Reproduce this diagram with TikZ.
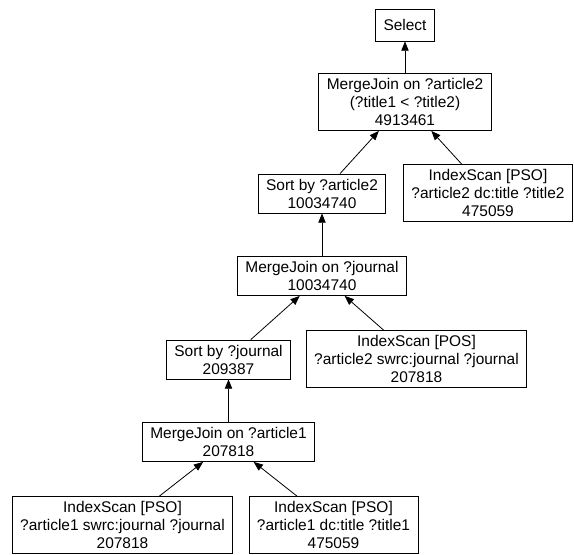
\documentclass[tikz,border=0pt]{standalone}
\usepackage{fontspec}
\setmainfont{Liberation Sans}
\usetikzlibrary{arrows.meta}

\begin{document}
\begin{tikzpicture}[
x=0.75pt, y=-0.75pt,
>={Triangle[length=7pt,width=5.5pt]},
line width=0.6pt,
box/.style={rectangle, draw, align=center, font=\fontsize{11.6}{13.5}\selectfont,
  inner xsep=6pt, inner ysep=3.6pt, minimum height=24pt}
]
\useasboundingbox (0,0) rectangle (574,554);

\node[box] (select) at (405,25) {Select};
\node[box] (mj2) at (405,102) {MergeJoin on ?article2\\(?title1 < ?title2)\\4913461};

\node[box] (sort2) at (322,193.5) {Sort by ?article2\\10034740};
\node[box] (scan4) at (488,193) {IndexScan [PSO]\\?article2 dc:title ?title2\\475059};

\node[box] (mjj) at (322,276) {MergeJoin on ?journal\\10034740};

\node[box] (sortj) at (228.5,359.5) {Sort by ?journal\\209387};
\node[box] (scan3) at (416.5,359) {IndexScan [POS]\\?article2 swrc:journal ?journal\\207818};

\node[box] (mj1) at (228.5,442) {MergeJoin on ?article1\\207818};

\node[box] (scan1) at (122.5,525) {IndexScan [PSO]\\?article1 swrc:journal ?journal\\207818};
\node[box] (scan2) at (333.5,525) {IndexScan [PSO]\\?article1 dc:title ?title1\\475059};

\draw[->] (mj2) -- (select);
\draw[->] (sort2) -- (mj2);
\draw[->] (scan4) -- (mj2);
\draw[->] (mjj) -- (sort2);
\draw[->] (sortj) -- (mjj);
\draw[->] (scan3) -- (mjj);
\draw[->] (mj1) -- (sortj);
\draw[->] (scan1) -- (mj1);
\draw[->] (scan2) -- (mj1);

\end{tikzpicture}
\end{document}
